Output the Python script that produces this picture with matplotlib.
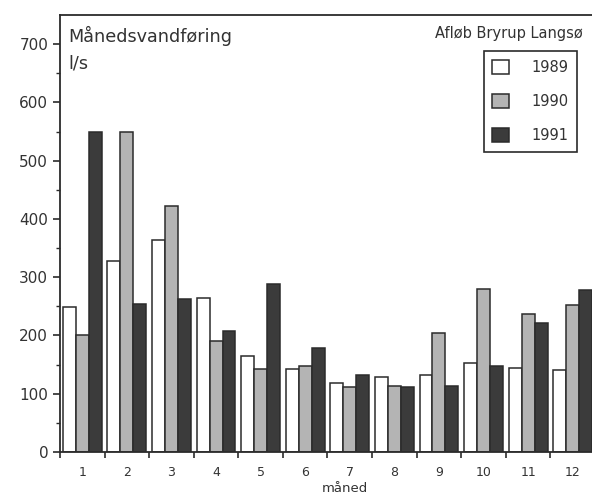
import numpy as np
import matplotlib.pyplot as plt
from matplotlib.patches import Patch

# monthly discharge, l/s
months = ['1', '2', '3', '4', '5', '6', '7', '8', '9', '10', '11', '12']
years = ['1989', '1990', '1991']
q1989 = [248, 328, 364, 265, 164, 142, 119, 129, 133, 152, 145, 140]
q1990 = [200, 550, 422, 191, 142, 148, 112, 113, 204, 279, 236, 252]
q1991 = [550, 254, 263, 208, 288, 179, 133, 111, 114, 148, 222, 278]

colors = ['#ffffff', '#b4b4b4', '#3b3b3b']
edge = '#2b2b2b'

fig = plt.figure(figsize=(5.92, 4.96), dpi=100)
ax = fig.add_axes([60/592, 44/496, 535/592, 437/496])

x = np.arange(1, 13)
w = 0.29
for i, (vals, c) in enumerate(zip([q1989, q1990, q1991], colors)):
    ax.bar(x + (i - 1)*w, vals, width=w, color=c, edgecolor=edge, linewidth=1.1)

ax.set_xlim(0.5, 12.5)
ax.set_ylim(0, 750)

# month labels at group centres, tick marks at group boundaries
ax.set_xticks(x)
ax.set_xticklabels(months, fontsize=9, color='#333333')
ax.set_xticks(np.arange(0.5, 13), minor=True)
ax.tick_params(axis='x', which='major', length=0, pad=10)
ax.tick_params(axis='x', which='minor', length=4, width=1.2, color=edge)

ax.set_yticks(np.arange(0, 701, 100))
ax.set_yticks(np.arange(50, 701, 100), minor=True)
ax.tick_params(axis='y', which='major', length=5, width=1.2, color=edge,
               labelsize=11, labelcolor='#333333')
ax.tick_params(axis='y', which='minor', length=3, width=1.0, color=edge)

for s in ['left', 'bottom', 'top']:
    ax.spines[s].set_linewidth(1.3)
    ax.spines[s].set_color(edge)
ax.spines['right'].set_visible(False)

fig.text(68/592, 1 - 42/496, 'Månedsvandføring', fontsize=12.7, color='#333333')
fig.text(68/592, 1 - 68/496, 'l/s', fontsize=12.7, color='#333333')
fig.text(583/592, 1 - 38/496, 'Afløb Bryrup Langsø', fontsize=10.5,
         color='#333333', ha='right')
fig.text(345/592, 1 - 492/496, 'måned', fontsize=9.5, color='#333333',
         ha='center')

handles = [Patch(facecolor=c, edgecolor=edge, linewidth=1.1) for c in colors]
leg = ax.legend(handles, years, loc='upper right',
                bbox_to_anchor=(577/592, 1 - 51/496),
                bbox_transform=fig.transFigure, fontsize=10.5,
                handlelength=1.15, handleheight=1.15, handletextpad=1.5,
                labelspacing=1.3, borderpad=0.6, borderaxespad=0,
                fancybox=False, framealpha=1, edgecolor=edge)
leg.get_frame().set_linewidth(1.2)
for t in leg.get_texts():
    t.set_color('#333333')

plt.savefig('out.png', dpi=100)
